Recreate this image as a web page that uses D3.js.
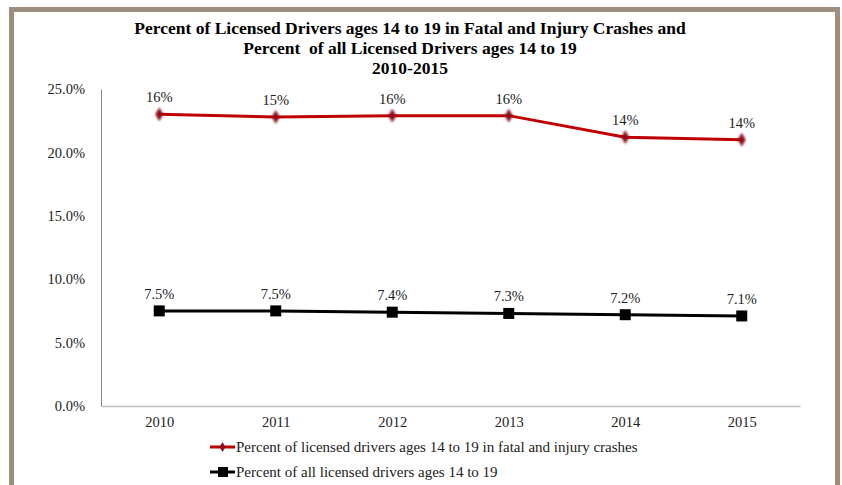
<!DOCTYPE html>
<html>
<head>
<meta charset="utf-8">
<script src="https://cdn.jsdelivr.net/npm/d3@7"></script>
<style>
  body { margin: 0; background: #fff; }
  text { font-family: "Liberation Serif", "DejaVu Serif", serif; fill: #222; }
</style>
</head>
<body>
<svg id="chart" width="842" height="485"></svg>
<script>
// data
var years = ["2010", "2011", "2012", "2013", "2014", "2015"];
var crashValues = [23.0, 22.8, 22.9, 22.9, 21.2, 21.0];
var crashLabels = ["16%", "15%", "16%", "16%", "14%", "14%"];
var allValues = [7.5, 7.5, 7.4, 7.3, 7.2, 7.1];
var allLabels = ["7.5%", "7.5%", "7.4%", "7.3%", "7.2%", "7.1%"];
var yTicks = [0, 5, 10, 15, 20, 25];
var titleLines = [
  "Percent of Licensed Drivers ages 14 to 19 in Fatal and Injury Crashes and",
  "Percent  of all Licensed Drivers ages 14 to 19",
  "2010-2015"
];
var legendLabels = [
  "Percent of licensed drivers ages 14 to 19 in fatal and injury crashes",
  "Percent of all licensed drivers ages 14 to 19"
];

var svg = d3.select("#chart"),
    plotLeft = 101, plotRight = 800, plotTop = 89, plotBottom = 406,
    red = "#c00000", redDark = "#8e0c1e", frame = "#9e8e7f";

// frame
svg.append("path")
  .attr("d", "M11.5,485 V9.5 H837.5 V485")
  .attr("fill", "none").attr("stroke", frame).attr("stroke-width", 5);

// title
svg.selectAll(".title").data(titleLines).enter().append("text")
  .attr("class", "title")
  .attr("x", 410).attr("y", function (d, i) { return 34 + i * 20; })
  .attr("text-anchor", "middle")
  .style("white-space", "pre")
  .style("font-weight", "bold").style("font-size", "17.5px").style("fill", "#000")
  .text(function (d) { return d; });

var x = d3.scalePoint().domain(years).range([plotLeft, plotRight]).padding(0.5),
    y = d3.scaleLinear().domain([0, 25]).range([plotBottom, plotTop]);

// y axis
var yAxis = svg.append("g").attr("transform", "translate(" + plotLeft + ",0)")
  .call(d3.axisLeft(y).tickValues(yTicks).tickSize(0).tickPadding(16)
    .tickFormat(function (d) { return d3.format(".1f")(d) + "%"; }));
yAxis.select(".domain").attr("stroke", "#8a8a8a").attr("stroke-width", 1);
yAxis.selectAll("text").style("font-size", "14.5px").style("font-family", "Liberation Serif").attr("fill", "#222");

// x axis
var xAxis = svg.append("g").attr("transform", "translate(0," + plotBottom + ")")
  .call(d3.axisBottom(x).tickSize(0).tickPadding(11));
xAxis.select(".domain").attr("stroke", "#bdbdbd").attr("stroke-width", 1.5);
xAxis.selectAll("text").style("font-size", "14.5px").style("font-family", "Liberation Serif").attr("fill", "#222");

var line = d3.line().x(function (d, i) { return x(years[i]); }).y(function (d) { return y(d); });

// blur for the red markers
var defs = svg.append("defs");
defs.append("filter").attr("id", "soft").append("feGaussianBlur").attr("stdDeviation", 0.9);

// red series
svg.append("path").datum(crashValues).attr("d", line)
  .attr("fill", "none").attr("stroke", red).attr("stroke-width", 3);
svg.selectAll(".red-pt").data(crashValues).enter().append("path")
  .attr("class", "red-pt")
  .attr("transform", function (d, i) { return "translate(" + x(years[i]) + "," + y(d) + ")"; })
  .attr("d", d3.symbol(d3.symbolDiamond, 55))
  .attr("fill", redDark).attr("filter", "url(#soft)");
svg.selectAll(".red-lbl").data(crashValues).enter().append("text")
  .attr("class", "red-lbl")
  .attr("x", function (d, i) { return x(years[i]); })
  .attr("y", function (d) { return y(d) - 12; })
  .attr("text-anchor", "middle").style("font-size", "14.5px")
  .text(function (d, i) { return crashLabels[i]; });

// black series
svg.append("path").datum(allValues).attr("d", line)
  .attr("fill", "none").attr("stroke", "#000").attr("stroke-width", 3);
svg.selectAll(".blk-pt").data(allValues).enter().append("rect")
  .attr("class", "blk-pt")
  .attr("x", function (d, i) { return x(years[i]) - 5.5; })
  .attr("y", function (d) { return y(d) - 5.5; })
  .attr("width", 11).attr("height", 11).attr("fill", "#000");
svg.selectAll(".blk-lbl").data(allValues).enter().append("text")
  .attr("class", "blk-lbl")
  .attr("x", function (d, i) { return x(years[i]); })
  .attr("y", function (d) { return y(d) - 12; })
  .attr("text-anchor", "middle").style("font-size", "14.5px")
  .text(function (d, i) { return allLabels[i]; });

// legend
var leg = svg.selectAll(".leg").data(legendLabels).enter().append("g")
  .attr("class", "leg")
  .attr("transform", function (d, i) { return "translate(210," + (447 + i * 25) + ")"; });
leg.append("line").attr("x1", 0).attr("x2", 25).attr("y1", 0).attr("y2", 0)
  .attr("stroke", function (d, i) { return i ? "#000" : red; }).attr("stroke-width", 3);
leg.each(function (d, i) {
  var g = d3.select(this);
  if (i) {
    g.append("rect").attr("x", 8).attr("y", -5).attr("width", 10).attr("height", 10).attr("fill", "#000");
  } else {
    g.append("path").attr("transform", "translate(12.5,0)").attr("d", d3.symbol(d3.symbolDiamond, 30)).attr("fill", redDark);
  }
});
leg.append("text").attr("x", 26).attr("y", 5).style("font-size", "15px")
  .text(function (d) { return d; });
</script>
</body>
</html>
